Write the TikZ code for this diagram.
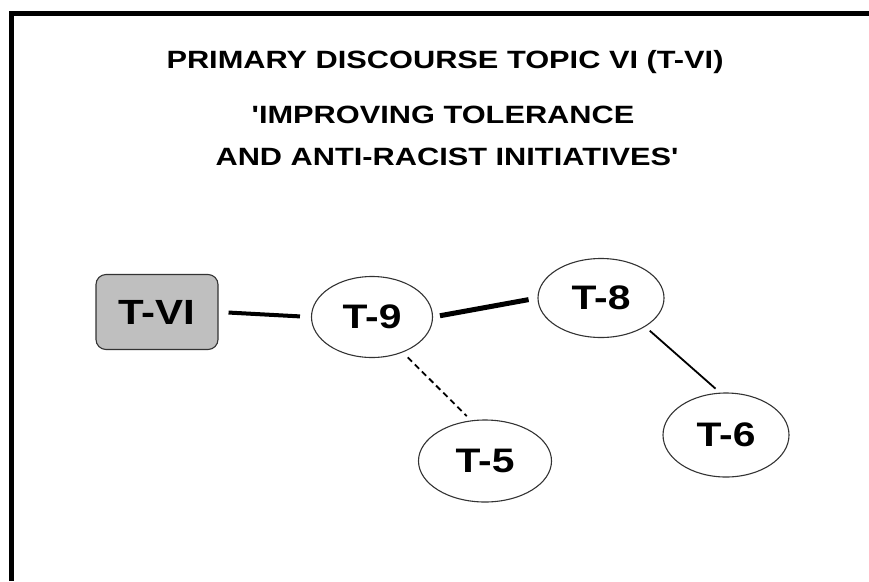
\documentclass[tikz,border=0pt]{standalone}
\usepackage{fontspec}
\setmainfont{Liberation Sans}
\usetikzlibrary{shapes.geometric}
\begin{document}
\begin{tikzpicture}[x=1pt,y=-1pt,
  titletext/.style={font=\fontsize{25}{25}\selectfont\bfseries, inner sep=0pt, anchor=center},
  topic/.style={draw=black!80, line width=1.1pt, ellipse, inner sep=0pt,
    font=\fontsize{34}{34}\selectfont\bfseries},
  maintopic/.style={draw=black!80, line width=1.1pt, rounded corners=10pt, fill=black!25,
    inner sep=0pt, font=\fontsize{35}{35}\selectfont\bfseries},
  thicklink/.style={line width=4pt},
  thinlink/.style={line width=1.8pt},
  dashlink/.style={line width=1.8pt, dash pattern=on 6pt off 4pt}
]
\useasboundingbox (0,0) rectangle (869,581);
% frame along the top and left edges
\draw[line width=5pt] (11.5,581) -- (11.5,13.5) -- (869,13.5);

% heading
\node[titletext] (title) at (445,62) {\scalebox{1.23}[1]{PRIMARY DISCOURSE TOPIC VI (T-VI)}};
\node[titletext] (sub1) at (443,115) {\scalebox{1.23}[1]{\textquotesingle IMPROVING TOLERANCE}};
\node[titletext] (sub2) at (447,157) {\scalebox{1.23}[1]{AND ANTI-RACIST INITIATIVES\textquotesingle}};

% topics
\node[maintopic, minimum width=122pt, minimum height=75pt] (tvi) at (157,312) {\scalebox{1.2}[1]{T-VI}};
\node[topic, minimum width=121pt, minimum height=81pt] (t9) at (372,317) {\scalebox{1.2}[1]{T-9}};
\node[topic, minimum width=126pt, minimum height=79pt] (t8) at (601,298) {\scalebox{1.2}[1]{T-8}};
\node[topic, minimum width=126pt, minimum height=84pt] (t6) at (726,435) {\scalebox{1.2}[1]{T-6}};
\node[topic, minimum width=133pt, minimum height=82pt] (t5) at (485,461) {\scalebox{1.2}[1]{T-5}};

% links between topics
\draw[thicklink, shorten <=10pt, shorten >=11pt] (tvi.east) -- (t9.west);
\draw[thicklink, line width=5pt, shorten <=7pt, shorten >=9pt] (t9.east) -- (t8.west);
\draw[dashlink, shorten <=7pt, shorten >=6pt] (t9.-49) -- (t5.109);
\draw[thinlink, shorten <=6pt, shorten >=6pt] (t8.-33) -- (t6.98);
\end{tikzpicture}
\end{document}
